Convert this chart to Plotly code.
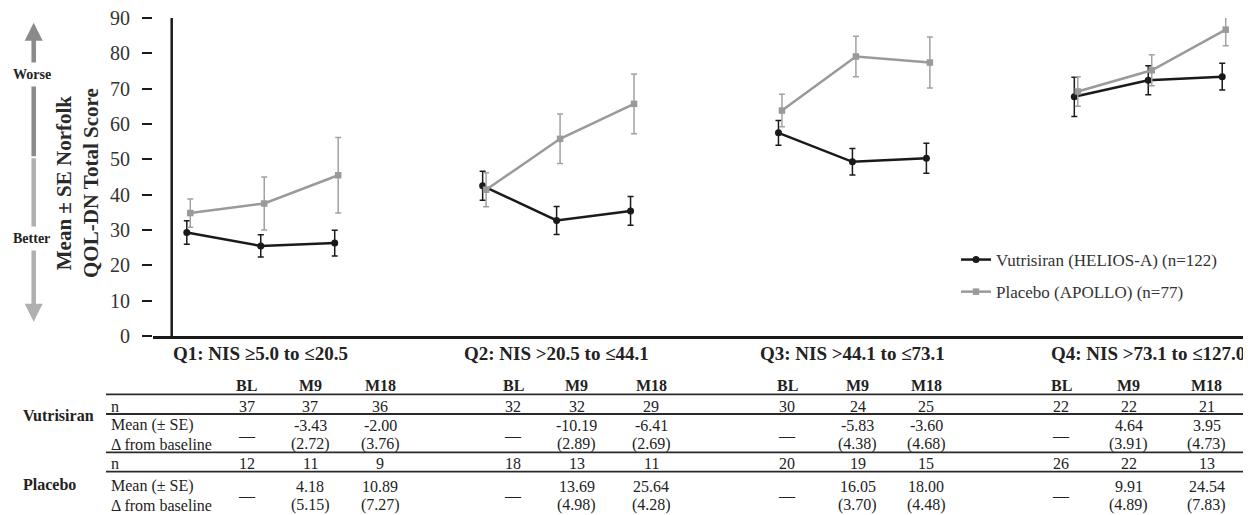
import plotly.graph_objects as go

# ---------------- data ----------------
quadrants = ["Q1: NIS ≥5.0 to ≤20.5", "Q2: NIS >20.5 to ≤44.1",
             "Q3: NIS >44.1 to ≤73.1", "Q4: NIS >73.1 to ≤127.0"]
timepoints = ["BL", "M9", "M18"]

vut_name = "Vutrisiran (HELIOS-A) (n=122)"
pla_name = "Placebo (APOLLO) (n=77)"

vut_mean = [[29.3, 25.5, 26.3], [42.5, 32.7, 35.4], [57.5, 49.3, 50.3], [67.7, 72.4, 73.4]]
vut_se = [[3.35, 3.15, 3.65], [4.1, 3.95, 4.05], [3.5, 3.75, 4.25], [5.55, 4.1, 3.8]]
pla_mean = [[34.8, 37.5, 45.5], [41.4, 55.8, 65.7], [63.8, 79.1, 77.4], [69.2, 75.2, 86.7]]
pla_se = [[4.0, 7.5, 10.7], [4.8, 7.0, 8.45], [4.6, 5.75, 7.2], [4.2, 4.4, 4.55]]

vut_n = [[37, 37, 36], [32, 32, 29], [30, 24, 25], [22, 22, 21]]
vut_chg = [[None, -3.43, -2.00], [None, -10.19, -6.41], [None, -5.83, -3.60], [None, 4.64, 3.95]]
vut_chg_se = [[None, 2.72, 3.76], [None, 2.89, 2.69], [None, 4.38, 4.68], [None, 3.91, 4.73]]
pla_n = [[12, 11, 9], [18, 13, 11], [20, 19, 15], [26, 22, 13]]
pla_chg = [[None, 4.18, 10.89], [None, 13.69, 25.64], [None, 16.05, 18.00], [None, 9.91, 24.54]]
pla_chg_se = [[None, 5.15, 7.27], [None, 4.98, 4.28], [None, 3.70, 4.48], [None, 4.89, 7.83]]

y_ticks = [0, 10, 20, 30, 40, 50, 60, 70, 80, 90]
y_title = "Mean ± SE Norfolk<br>QOL-DN Total Score"
row_labels = ["n", "Mean (± SE)", "Δ from baseline"]
group_labels = ["Vutrisiran", "Placebo"]

# ---------------- layout constants (screen pixels) ----------------
FONT = "Liberation Serif, Times New Roman, serif"
SCREEN_W, SCREEN_H = 1251, 515
OFF = 8                      # page body margin in the browser
L, R_EDGE = 153, 1251        # plot area left / right (screen px)
TOP, BOT = 18, 336           # plot area top / bottom (screen px)
GROUP_STEP = 4               # 3 time points + 1 empty slot per quadrant
DODGE = 0.047
X_RANGE = [-0.457, 14.389]
DARK = "#1a1a1a"
GRAY = "#9a9a9a"
TXT = "#222222"

TABLE_COL_PX = [[246.7, 310, 380], [513.3, 576.7, 651], [787, 857.7, 926], [1061, 1128.7, 1206.7]]


def px(x):
    return (x - L) / (R_EDGE - L)


def py(y):
    return (BOT - y) / (BOT - TOP)


def series_xy(means, ses, dodge):
    xs, ys, es = [], [], []
    for g, (m, s) in enumerate(zip(means, ses)):
        for t in range(len(timepoints)):
            xs.append(g * GROUP_STEP + t + dodge)
            ys.append(m[t])
            es.append(s[t])
        xs.append(None)
        ys.append(None)
        es.append(0)
    return xs, ys, es


fig = go.Figure()

vx, vy, ve = series_xy(vut_mean, vut_se, 0.0)
fig.add_trace(go.Scatter(
    x=vx, y=vy, name=vut_name, mode="lines+markers", legendgroup="v",
    line=dict(color=DARK, width=2.5),
    marker=dict(symbol="circle", size=7, color=DARK),
    error_y=dict(type="data", array=ve, visible=True, color=DARK, thickness=1.5, width=3),
    cliponaxis=False, connectgaps=False,
))
gx, gy, ge = series_xy(pla_mean, pla_se, DODGE)
fig.add_trace(go.Scatter(
    x=gx, y=gy, name=pla_name, mode="lines+markers", legendgroup="p",
    line=dict(color=GRAY, width=2.5),
    marker=dict(symbol="square", size=6.5, color=GRAY),
    error_y=dict(type="data", array=ge, visible=True, color="#a2a2a2", thickness=1.5, width=3),
    cliponaxis=False, connectgaps=False,
))

ann = []


def text(xp, yp, s, size=16, bold=False, xanchor="center", color=TXT, **kw):
    d = dict(x=px(xp), y=py(yp), xref="paper", yref="paper", text=f"<b>{s}</b>" if bold else s,
             showarrow=False, xanchor=xanchor, yanchor="middle",
             font=dict(family=FONT, size=size, color=color))
    d.update(kw)
    ann.append(d)


# quadrant labels centred on the M9 position of each group
for g, q in enumerate(quadrants):
    ann.append(dict(x=g * GROUP_STEP + 1, y=py(353), xref="x", yref="paper",
                    text=f"<b>{q}</b>", showarrow=False, xanchor="center", yanchor="middle",
                    font=dict(family=FONT, size=19, color=TXT)))

# y-axis title
ann.append(dict(x=px(77), y=py(183), xref="paper", yref="paper", text=f"<b>{y_title}</b>",
                textangle=-90, showarrow=False, xanchor="center", yanchor="middle",
                font=dict(family=FONT, size=21, color="#2a2a2a")))

# worse / better arrow
ann.append(dict(x=px(33.7), y=py(22.7), xref="paper", yref="paper", text="", showarrow=True,
                ax=0, ay=135, arrowhead=2, arrowsize=0.8, arrowwidth=4.5, arrowcolor="#8a8a8a"))
ann.append(dict(x=px(33.7), y=py(321.7), xref="paper", yref="paper", text="", showarrow=True,
                ax=0, ay=-165, arrowhead=2, arrowsize=0.8, arrowwidth=4.5, arrowcolor="#b0b0b0"))
text(32, 75, "Worse", size=14, bold=True, bgcolor="white", borderpad=4)
text(31, 238, "Better", size=14, bold=True, bgcolor="white", borderpad=4)

# table
ROW_Y = dict(head=385.7, vn=406, vm=425, vs=444.3, vd=435.5, pn=463.3, pm=486, ps=505, pd=495.5)
for g in range(len(quadrants)):
    for t, tp in enumerate(timepoints):
        cx = TABLE_COL_PX[g][t]
        text(cx, ROW_Y["head"], tp, bold=True)
        text(cx, ROW_Y["vn"], str(vut_n[g][t]))
        text(cx, ROW_Y["pn"], str(pla_n[g][t]))
        if vut_chg[g][t] is None:
            text(cx, ROW_Y["vd"], "—")
        else:
            text(cx, ROW_Y["vm"], f"{vut_chg[g][t]:.2f}")
            text(cx, ROW_Y["vs"], f"({vut_chg_se[g][t]:.2f})")
        if pla_chg[g][t] is None:
            text(cx, ROW_Y["pd"], "—")
        else:
            text(cx, ROW_Y["pm"], f"{pla_chg[g][t]:.2f}")
            text(cx, ROW_Y["ps"], f"({pla_chg_se[g][t]:.2f})")

for key, lab in zip(["vn", "vm", "vs"], row_labels):
    text(109, ROW_Y[key], lab, xanchor="left")
for key, lab in zip(["pn", "pm", "ps"], row_labels):
    text(109, ROW_Y[key], lab, xanchor="left")
text(21, 415, group_labels[0], bold=True, xanchor="left")
text(21, 484.3, group_labels[1], bold=True, xanchor="left")

shapes = [dict(type="line", xref="paper", yref="paper", x0=px(171.7), x1=px(171.7), y0=0, y1=1,
               line=dict(color=DARK, width=2.5))]
for yl in [394.3, 414, 452.3, 471.7]:
    shapes.append(dict(type="line", xref="paper", yref="paper", x0=px(106), x1=1.0,
                       y0=py(yl), y1=py(yl), line=dict(color="#2a2a2a", width=1.8)))

fig.update_layout(
    width=SCREEN_W - OFF, height=SCREEN_H - OFF,
    margin=dict(l=L - OFF, r=SCREEN_W - R_EDGE, t=TOP - OFF, b=SCREEN_H - BOT, pad=0),
    plot_bgcolor="white", paper_bgcolor="white",
    font=dict(family=FONT, color=TXT),
    showlegend=True,
    legend=dict(x=px(956), y=py(242), xanchor="left", yanchor="top",
                font=dict(family=FONT, size=17, color="#333333"),
                traceorder="grouped", tracegroupgap=7, bgcolor="rgba(0,0,0,0)"),
    xaxis=dict(range=X_RANGE, showline=True, linecolor=DARK, linewidth=2.5,
               showticklabels=False, ticks="", showgrid=False, zeroline=False, fixedrange=True),
    yaxis=dict(range=[0, 90], tickvals=y_ticks, ticks="outside", ticklen=10, tickwidth=2,
               tickcolor=DARK, showline=False, showgrid=False, zeroline=False,
               tickfont=dict(family=FONT, size=20, color="#333333"), ticklabelstandoff=8,
               ticklabeloverflow="allow"),
    annotations=ann, shapes=shapes,
)

fig.write_html("out.html")
